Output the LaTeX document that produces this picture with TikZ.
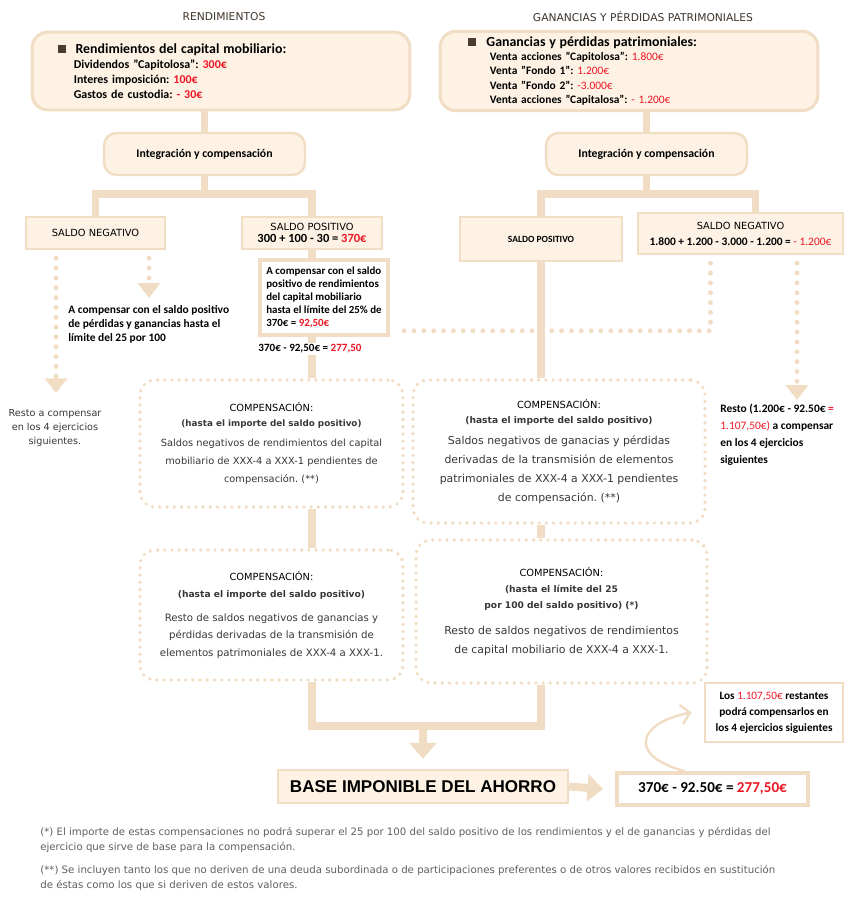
\documentclass[tikz,border=0pt]{standalone}
\usepackage{fontspec}
\setmainfont{Carlito}
\newfontfamily\verdfont{DejaVu Sans}
\newfontfamily\arialfont{Liberation Sans}
\usepackage{tikz}
\usetikzlibrary{arrows.meta,positioning}
\definecolor{sand}{RGB}{240,221,196}
\definecolor{cream}{RGB}{253,242,228}
\definecolor{hired}{RGB}{237,22,36}
\definecolor{titlegray}{RGB}{62,52,44}
\definecolor{bodygray}{RGB}{55,55,55}
\definecolor{notegray}{RGB}{95,95,95}
\definecolor{bulletbrown}{RGB}{74,60,47}
\newcommand{\rd}[1]{\textcolor{hired}{#1}}
\newcommand{\sqbullet}{\textcolor{bulletbrown}{\rule[0.5pt]{4.5pt}{4.5pt}}}
\frenchspacing

\begin{document}
\begin{tikzpicture}[x=0.02cm, y=-0.02cm,
        titletext/.style={font=\verdfont\fontsize{6.1}{7}\selectfont, text=titlegray},
        topbox/.style={draw=sand, line width=1.7pt, fill=cream, rounded corners=0.32cm, align=left},
        intbox/.style={draw=sand, line width=1.4pt, fill=cream, rounded corners=0.25cm, minimum width=4.02cm, minimum height=0.84cm, font=\bfseries\fontsize{6.7}{8}\selectfont},
        saldo/.style={draw=sand, line width=1.4pt, fill=cream, align=center, inner sep=0pt},
        whitebox/.style={draw=sand, line width=2pt, fill=white, align=center, inner sep=0pt},
        dotbox/.style={draw=sand, line width=2.1pt, dash pattern=on 0pt off 4.1pt, line cap=round, rounded corners=0.3cm, align=center, text=bodygray},
        trunk/.style={draw=sand, line width=4.5pt},
        dotline/.style={draw=sand, line width=2.8pt, dash pattern=on 0pt off 5.6pt, line cap=round},
        dotarrow/.style={dotline, -{Triangle[width=12.5pt,length=8.5pt]}},
        bigarrow/.style={trunk, -{Triangle[width=15pt,length=9pt]}},
        curvy/.style={draw=sand, line width=1.4pt, -{Straight Barb[length=5pt,width=11pt]}}
      ]
      \useasboundingbox (0,0) rectangle (850,900);

      \node[titletext] (titL) at (224,17) {RENDIMIENTOS};
      \node[titletext] (titR) at (643,17) {GANANCIAS Y PÉRDIDAS PATRIMONIALES};

      \node[topbox, minimum height=1.56cm, text width=6.52cm, inner xsep=0.52cm, font=\bfseries\fontsize{6.8}{8.5}\selectfont] (topL) at (221,71) {
        \sqbullet\hspace{5.5pt}{\fontsize{7.9}{9}\selectfont Rendimientos del capital mobiliario:}\\
        \hspace*{9pt}Dividendos "Capitolosa": \rd{300€}\\
        \hspace*{9pt}Interes imposición: \rd{100€}\\
        \hspace*{9pt}Gastos de custodia: \rd{- 30€}};
      \node[topbox, minimum height=1.56cm, text width=6.44cm, inner xsep=0.56cm, font=\bfseries\fontsize{6.5}{8}\selectfont] (topR) at (629,71) {
        \sqbullet\hspace{6pt}{\fontsize{7.9}{9}\selectfont Ganancias y pérdidas patrimoniales:}\\
        \hspace*{12.5pt}Venta acciones "Capitolosa": \rd{\mdseries 1.800€}\\
        \hspace*{12.5pt}Venta "Fondo 1": \rd{\mdseries 1.200€}\\
        \hspace*{12.5pt}Venta "Fondo 2": \rd{\mdseries -3.000€}\\
        \hspace*{12.5pt}Venta acciones "Capitalosa": \rd{\mdseries - 1.200€}};

      \node[intbox] (intL) at (204.5,154) {Integración y compensación};
      \node[intbox] (intR) at (646.5,154) {Integración y compensación};

      \node[saldo, minimum width=2.78cm, minimum height=0.64cm, font=\verdfont\fontsize{5.6}{7}\selectfont] (negL) at (95.5,233) {SALDO NEGATIVO};
      \node[saldo, minimum width=2.8cm, minimum height=0.64cm, font=\verdfont\fontsize{5.6}{6.8}\selectfont] (posL) at (312,233) {SALDO POSITIVO\\{\normalfont\bfseries\fontsize{7.1}{8}\selectfont 300 + 100 - 30 = \rd{370€}}};
      \node[saldo, minimum width=3.24cm, minimum height=0.88cm, font=\bfseries\fontsize{5.4}{7}\selectfont] (posR) at (541,239) {SALDO POSITIVO};
      \node[saldo, minimum width=4.1cm, minimum height=0.82cm, font=\verdfont\fontsize{5.6}{9}\selectfont] (negR) at (740.5,233.5) {SALDO NEGATIVO\\{\normalfont\bfseries\fontsize{6.5}{8}\selectfont 1.800 + 1.200 - 3.000 - 1.200 = \rd{\mdseries - 1.200€}}};

      \node[anchor=north west, align=left, inner sep=0pt, font=\bfseries\fontsize{6.5}{8}\selectfont] (negLtext) at (68,305) {A compensar con el saldo positivo\\de pérdidas y ganancias hasta el\\límite del 25 por 100};
      \node[align=center, text=bodygray, font=\verdfont\fontsize{5.5}{8}\selectfont] (restL) at (55,428) {Resto a compensar\\en los 4 ejercicios\\siguientes.};

      \node[whitebox, minimum width=2.56cm, minimum height=1.5cm, align=left, font=\bfseries\fontsize{6.2}{7.4}\selectfont] (capBox) at (324,297.5) {A compensar con el saldo\\positivo de rendimientos\\del capital mobiliario\\hasta el límite del 25\% de\\370€ = \rd{92,50€}};
      \node[fill=white, inner sep=1pt, font=\bfseries\fontsize{6.3}{7}\selectfont] (resL) at (310,349) {370€ - 92,50€ = \rd{277,50}};

      \node[anchor=north west, align=left, inner sep=0pt, font=\bfseries\fontsize{6.5}{9.6}\selectfont] (resR) at (720,404) {Resto (1.200€ - 92.50€ \rd{=}\\\rd{\mdseries 1.107,50€)} a compensar\\en los 4 ejercicios\\siguientes};

      \node[dotbox, minimum width=5.26cm, minimum height=2.54cm, font=\verdfont\fontsize{5.6}{10.2}\selectfont] (CL1) at (271.5,443.5) {
        {\color{black}COMPENSACIÓN:}\\[-1.7pt]
        {\bfseries\fontsize{5}{6}\selectfont (hasta el importe del saldo positivo)}\\[1.1pt]
        Saldos negativos de rendimientos del capital\\
        mobiliario de XXX-4 a XXX-1 pendientes de\\
        compensación. (**)};
      \node[dotbox, minimum width=5.84cm, minimum height=2.86cm, font=\verdfont\fontsize{6.2}{10.8}\selectfont] (CR1) at (559,451.5) {
        {\color{black}\fontsize{5.6}{6}\selectfont COMPENSACIÓN:}\\[-1.8pt]
        {\bfseries\fontsize{5.2}{6}\selectfont (hasta el importe del saldo positivo)}\\[1.1pt]
        Saldos negativos de ganacias y pérdidas\\
        derivadas de la transmisión de elementos\\
        patrimoniales de XXX-4 a XXX-1 pendientes\\
        de compensación. (**)};
      \node[dotbox, minimum width=5.26cm, minimum height=2.6cm, font=\verdfont\fontsize{5.8}{9.9}\selectfont] (CL2) at (271.5,615) {
        {\color{black}\fontsize{5.6}{6}\selectfont COMPENSACIÓN:}\\[-0.3pt]
        {\bfseries\fontsize{5.2}{6}\selectfont (hasta el importe del saldo positivo)}\\[3.7pt]
        Resto de saldos negativos de ganancias y\\
        pérdidas derivadas de la transmisión de\\
        elementos patrimoniales de XXX-4 a XXX-1.};
      \node[dotbox, minimum width=5.82cm, minimum height=2.86cm, font=\verdfont\fontsize{6.2}{10.8}\selectfont] (CR2) at (561.5,611.5) {
        {\color{black}\fontsize{5.6}{6}\selectfont COMPENSACIÓN:}\\[-1.8pt]
        {\bfseries\fontsize{5.2}{6}\selectfont (hasta el límite del 25}\\[-1.8pt]
        {\bfseries\fontsize{5.2}{6}\selectfont por 100 del saldo positivo) (*)}\\[3.9pt]
        Resto de saldos negativos de rendimientos\\
        de capital mobiliario de XXX-4 a XXX-1.};

      \node[saldo, minimum width=5.8cm, minimum height=0.66cm, font=\arialfont\bfseries\fontsize{9.7}{11}\selectfont] (base) at (423,786.5) {BASE IMPONIBLE DEL AHORRO};
      \node[whitebox, minimum width=3.82cm, minimum height=0.64cm, font=\bfseries\fontsize{8.6}{10}\selectfont] (res) at (712.5,789) {370€ - 92.50€ = \rd{277,50€}};
      \node[whitebox, line width=1.6pt, minimum width=2.76cm, minimum height=1.18cm, font=\bfseries\fontsize{6.4}{9}\selectfont] (note) at (774,712.5) {Los \rd{\mdseries 1.107,50€} restantes\\podrá compensarlos en\\los 4 ejercicios siguientes};

      \node[anchor=north west, align=left, inner sep=0pt, text=notegray, font=\verdfont\fontsize{5.8}{8.5}\selectfont] (foot) at (40,827) {(*) El importe de estas compensaciones no podrá superar el 25 por 100 del saldo positivo de los rendimientos y el de ganancias y pérdidas del\\ejercicio que sirve de base para la compensación.\\[4.5pt](**) Se incluyen tanto los que no deriven de una deuda subordinada o de participaciones preferentes o de otros valores recibidos en sustitución\\de éstas como los que si deriven de estos valores.};

      \draw[trunk] (topL.south -| intL.north) -- (intL.north);
      \draw[trunk] (topR.south -| intR.north) -- (intR.north);
      \path (intL.south) ++(0,18) coordinate (forkL);
      \path (intR.south) ++(0,18) coordinate (forkR);
      \draw[trunk] (intL.south) -- (forkL);
      \draw[trunk] (intR.south) -- (forkR);
      \draw[trunk] (negL.north) |- (forkL) -| (posL.north);
      \draw[trunk] (posR.north) |- (forkR) -| ([xshift=0.3cm]negR.north);

      \coordinate (dL1) at ([xshift=-0.79cm,yshift=-0.16cm]negL.south);
      \coordinate (dL2) at ([xshift=1.07cm,yshift=-0.16cm]negL.south);
      \coordinate (dR1) at ([xshift=-0.6cm,yshift=-0.16cm]negR.south);
      \coordinate (dR2) at ([xshift=1.13cm,yshift=-0.16cm]negR.south);
      \draw[dotarrow, shorten >=0.2cm] (dL1) -- (dL1 |- restL.north);
      \draw[dotarrow, shorten >=0.14cm] (dL2) -- (dL2 |- negLtext.north);
      \draw[dotline] (dR1) |- ([xshift=0.2cm,yshift=0.12cm]capBox.south east);
      \draw[dotarrow, shorten >=0.08cm] (dR2) -- (dR2 |- resR.north);

      \draw[trunk] (posL.south) -- (posL.south |- capBox.north);
      \draw[trunk] (posL.south |- capBox.south) -- (posL.south |- resL.north);
      \draw[trunk] (posL.south |- resL.south) -- (posL.south |- CL1.north);
      \draw[trunk] (posL.south |- CL1.south) -- (posL.south |- CL2.north);
      \draw[trunk] (posR.south) -- (posR.south |- CR1.north);
      \draw[trunk] (posR.south |- CR1.south) -- (posR.south |- CR2.north);

      \path (base.north) ++(0,-43) coordinate (join);
      \draw[trunk] (posL.south |- CL2.south) |- (join) -| (posR.south |- CR2.south);
      \draw[bigarrow] (join) -- ([yshift=0.2cm]base.north);
      \draw[bigarrow] (base.east) -- ([xshift=-0.24cm]res.west);
      \draw[curvy] ([xshift=-0.55cm]res.north) .. controls (625,755) and (640,722) .. ([xshift=-0.24cm]note.west);
    \end{tikzpicture}
\end{document}
